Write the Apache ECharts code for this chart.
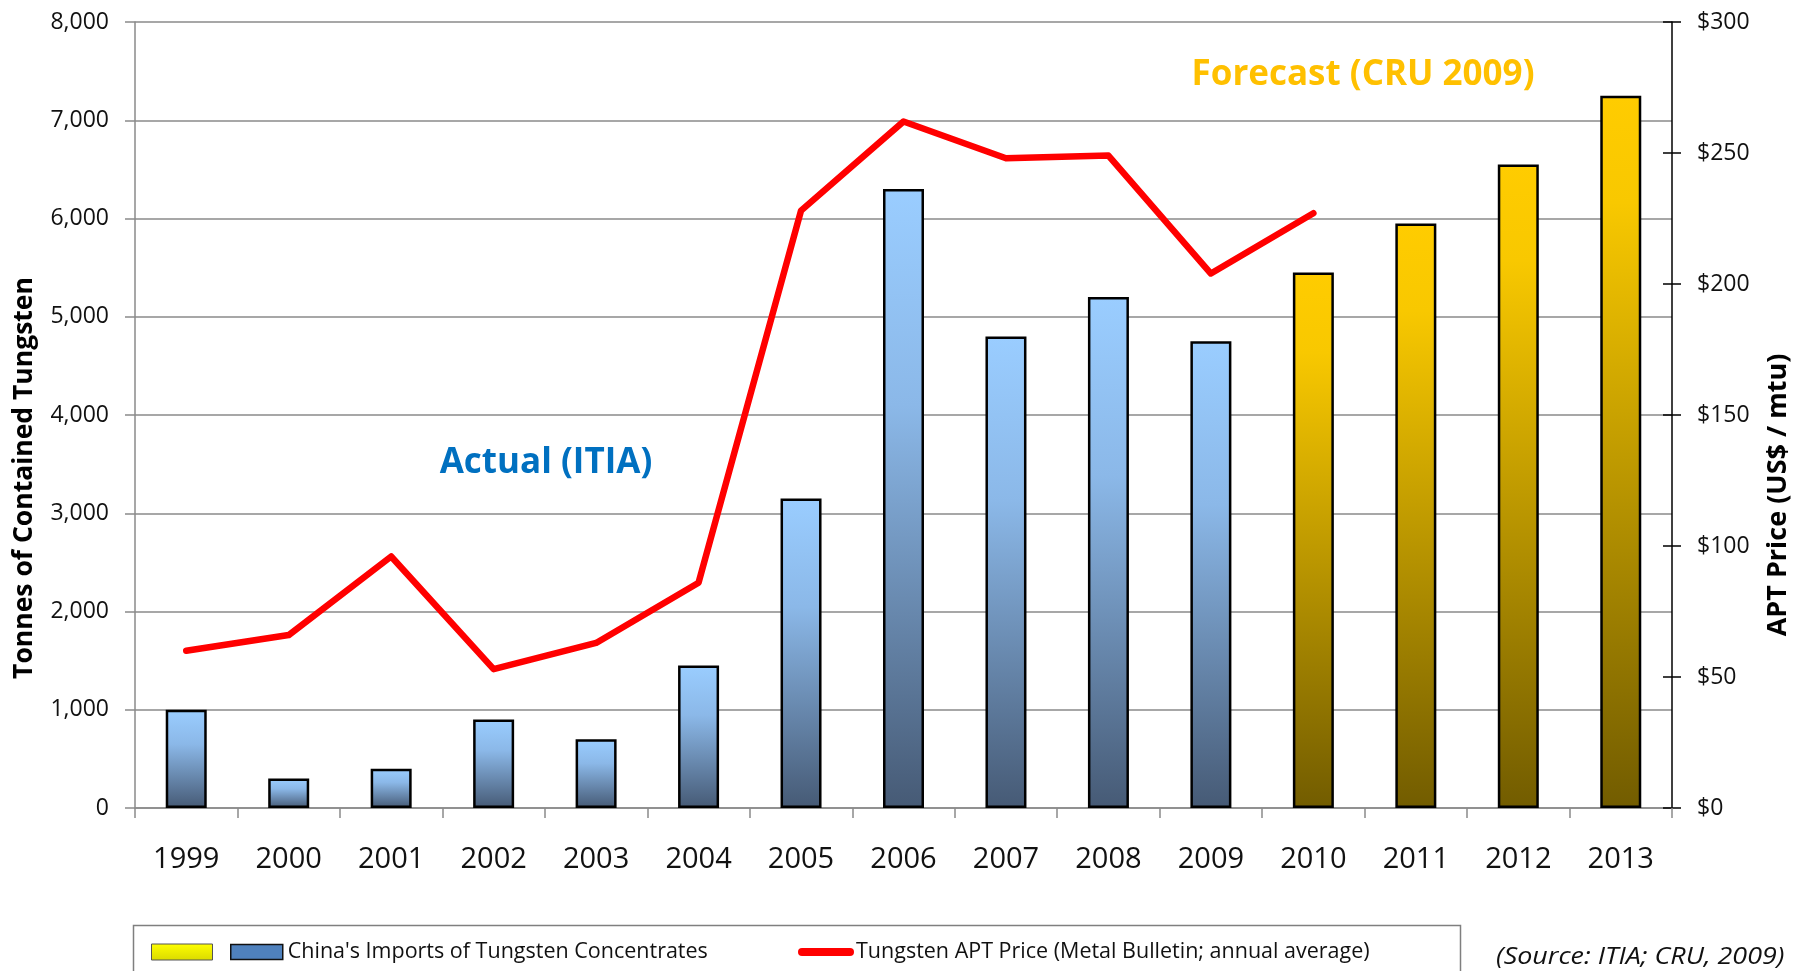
<!DOCTYPE html>
<html>
<head>
<meta charset="utf-8">
<script src="https://cdn.jsdelivr.net/npm/echarts@6/dist/echarts.min.js"></script>
<style>
html,body{margin:0;padding:0;background:#fff;}
#chart{width:1804px;height:971px;}
</style>
</head>
<body>
<div id="chart"></div>
<script>
// ---- data ----
const years = ['1999','2000','2001','2002','2003','2004','2005','2006','2007','2008','2009','2010','2011','2012','2013'];
const actualImports = [1000, 300, 400, 900, 700, 1450, 3150, 6300, 4800, 5200, 4750, null, null, null, null];
const forecastImports = [null, null, null, null, null, null, null, null, null, null, null, 5450, 5950, 6550, 7250];
const aptPrice = [60, 66, 96, 53, 63, 86, 228, 262, 248, 249, 204, 227];
const leftTicks = { min: 0, max: 8000, interval: 1000 };
const rightTicks = { min: 0, max: 300, interval: 50 };

const seriesNames = {
  actual: "China's Imports of Tungsten Concentrates",
  forecast: ' ',
  price: 'Tungsten APT Price (Metal Bulletin; annual average)'
};

const FONT = '"Open Sans", sans-serif';
const chart = echarts.init(document.getElementById('chart'));

const blueGrad = new echarts.graphic.LinearGradient(0, 0, 0, 1, [
  { offset: 0, color: '#9ACDFF' },
  { offset: 0.35, color: '#8BB8E8' },
  { offset: 1, color: '#465A75' }
]);
const goldGrad = new echarts.graphic.LinearGradient(0, 0, 0, 1, [
  { offset: 0, color: '#FFCC00' },
  { offset: 0.15, color: '#F8C800' },
  { offset: 1, color: '#725C00' }
]);
const yellowGrad = new echarts.graphic.LinearGradient(0, 0, 0, 1, [
  { offset: 0, color: '#FFFF00' },
  { offset: 1, color: '#DADA00' }
]);

const legendText = { fontFamily: FONT, fontSize: 21.5, color: '#111', lineHeight: 24 };

chart.setOption({
  animation: false,
  backgroundColor: '#fff',
  grid: { left: 135, right: 132, top: 22, bottom: 163, containLabel: false },
  xAxis: {
    type: 'category',
    data: years,
    boundaryGap: true,
    axisLine: { lineStyle: { color: '#8a8a8a', width: 1.5 } },
    axisTick: { show: true, length: 10, lineStyle: { color: '#8a8a8a', width: 1.5 } },
    axisLabel: { fontFamily: FONT, fontSize: 29, color: '#111', margin: 37 }
  },
  yAxis: [
    {
      type: 'value', position: 'left',
      min: leftTicks.min, max: leftTicks.max, interval: leftTicks.interval,
      axisLine: { show: true, lineStyle: { color: '#8a8a8a', width: 1.5 } },
      axisTick: { show: true, length: 10, lineStyle: { color: '#8a8a8a', width: 1.5 } },
      splitLine: { show: true, lineStyle: { color: '#8a8a8a', width: 1.5 } },
      axisLabel: {
        fontFamily: FONT, fontSize: 23, color: '#111', margin: 26,
        formatter: v => v.toLocaleString('en-US')
      }
    },
    {
      type: 'value', position: 'right',
      min: rightTicks.min, max: rightTicks.max, interval: rightTicks.interval,
      axisLine: { show: true, lineStyle: { color: '#000', width: 1.5 } },
      axisTick: { show: true, length: 9, lineStyle: { color: '#000', width: 1.5 } },
      splitLine: { show: false },
      axisLabel: {
        fontFamily: FONT, fontSize: 23, color: '#111', margin: 25,
        formatter: v => '$' + v
      }
    },
    {
      type: 'value', position: 'right',
      min: rightTicks.min, max: rightTicks.max, interval: rightTicks.interval,
      axisLine: { show: false },
      axisTick: { show: true, inside: true, length: 9, lineStyle: { color: '#000', width: 1.5 } },
      splitLine: { show: false },
      axisLabel: { show: false }
    }
  ],
  legend: [
    {
      left: 151, top: 940, padding: 0, selectedMode: false,
      icon: 'rect', itemWidth: 61, itemHeight: 16,
      textStyle: legendText,
      data: [{ name: seriesNames.forecast, itemStyle: { color: yellowGrad, borderColor: '#555', borderWidth: 1 } }]
    },
    {
      left: 230, top: 940, padding: 0, selectedMode: false,
      icon: 'rect', itemWidth: 52, itemHeight: 15,
      textStyle: legendText,
      data: [{ name: seriesNames.actual, itemStyle: { color: '#4F81BD', borderColor: '#111', borderWidth: 1.5 } }]
    },
    {
      left: 798, top: 940, padding: 0, selectedMode: false,
      icon: 'path://M4,0 L52,0 A4,4 0 0 1 52,8 L4,8 A4,4 0 0 1 4,0 Z',
      itemWidth: 56, itemHeight: 8,
      textStyle: Object.assign({}, legendText, { padding: [0, 0, 0, -3] }),
      data: [{ name: seriesNames.price, itemStyle: { color: '#FF0000' } }]
    }
  ],
  series: [
    {
      name: seriesNames.actual, type: 'bar', yAxisIndex: 0,
      data: actualImports, barWidth: 41, barGap: '-100%',
      itemStyle: { color: blueGrad, borderColor: '#000', borderWidth: 2.5 },
      z: 2
    },
    {
      name: seriesNames.forecast, type: 'bar', yAxisIndex: 0,
      data: forecastImports, barWidth: 41, barGap: '-100%',
      itemStyle: { color: goldGrad, borderColor: '#000', borderWidth: 2.5 },
      z: 2
    },
    {
      name: seriesNames.price, type: 'line', yAxisIndex: 1,
      data: aptPrice, symbol: 'none', smooth: false,
      lineStyle: { color: '#FF0000', width: 6.5, join: 'round', cap: 'round' },
      itemStyle: { color: '#FF0000' },
      z: 5
    }
  ],
  graphic: [
    {
      type: 'text', x: 24, y: 478, rotation: Math.PI / 2,
      style: { text: 'Tonnes of Contained Tungsten', fontFamily: FONT, fontWeight: 'bold', fontSize: 26.5, fill: '#000', align: 'center', verticalAlign: 'middle' }
    },
    {
      type: 'text', x: 1778, y: 495, rotation: Math.PI / 2,
      style: { text: 'APT Price (US$ / mtu)', fontFamily: FONT, fontWeight: 'bold', fontSize: 27, fill: '#000', align: 'center', verticalAlign: 'middle' }
    },
    {
      type: 'text', x: 546, y: 463,
      style: { text: 'Actual (ITIA)', fontFamily: FONT, fontWeight: 'bold', fontSize: 35, fill: '#0070C0', align: 'center', verticalAlign: 'middle' }
    },
    {
      type: 'text', x: 1363, y: 75,
      style: { text: 'Forecast (CRU 2009)', fontFamily: FONT, fontWeight: 'bold', fontSize: 35, fill: '#FFC000', align: 'center', verticalAlign: 'middle' }
    },
    {
      type: 'rect', shape: { x: 133.5, y: 925.5, width: 1327, height: 80 },
      style: { fill: 'none', stroke: '#7f7f7f', lineWidth: 1.5 }, silent: true
    },
    {
      type: 'text', x: 1496, y: 957, scaleX: 1.12,
      style: { text: '(Source: ITIA; CRU, 2009)', fontFamily: FONT, fontStyle: 'italic', fontSize: 24, fill: '#111', align: 'left', verticalAlign: 'middle' }
    }
  ]
});
</script>
</body>
</html>
